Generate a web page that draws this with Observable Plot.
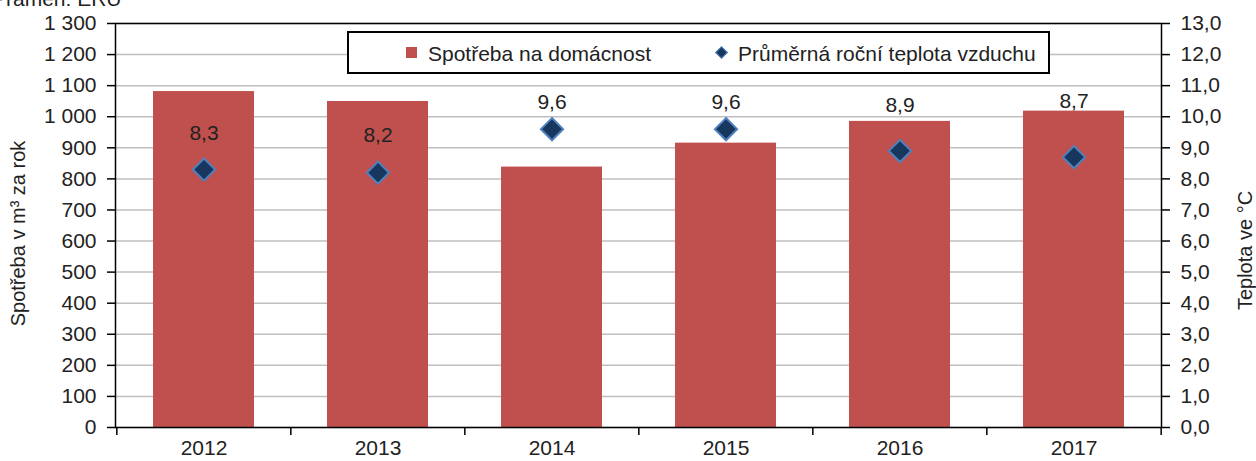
<!DOCTYPE html>
<html>
<head>
<meta charset="utf-8">
<script src="https://cdn.jsdelivr.net/npm/d3@7"></script>
<script src="https://cdn.jsdelivr.net/npm/@observablehq/plot@0.6"></script>
<style>
  html, body { margin: 0; padding: 0; background: #fff; }
  body { width: 1256px; height: 461px; position: relative; overflow: hidden; font-family: "Liberation Sans", Arial, sans-serif; color: #222; }
  #source { position: absolute; left: -8px; top: -12px; font-size: 21px; line-height: 21px; white-space: nowrap; }
  #legend { position: absolute; left: 347px; top: 31px; width: 699px; height: 39px; border: 2px solid #000; background: #fff; font-size: 21px; }
  #legend > * { position: absolute; }
  #legend .txt { top: 50%; transform: translateY(-50%); white-space: nowrap; line-height: 21px; }
  #chart { position: absolute; left: 0; top: 0; }
</style>
</head>
<body>
<div id="chart"></div>
<div id="source">Pramen: ERÚ</div>
<div id="legend">
  <span style="left:57px;top:14px;width:11px;height:11px;background:#c0504d;"></span>
  <span class="txt" style="left:79px;">Spotřeba na domácnost</span>
  <span style="left:368px;top:15px;width:7px;height:7px;background:#17375e;border:1px solid #4f81bd;transform:rotate(45deg);"></span>
  <span class="txt" style="left:389px;">Průměrná roční teplota vzduchu</span>
</div>
<script>
const years = ["2012", "2013", "2014", "2015", "2016", "2017"];
const consumption = [1081, 1049, 838, 915, 985, 1018];
const temperature = [8.3, 8.2, 9.6, 9.6, 8.9, 8.7];
const leftTicks = d3.range(0, 1301, 100);

const data = years.map((y, i) => ({year: y, cons: consumption[i], temp: temperature[i]}));

// layout / style
const W = 1256, H = 461, ML = 115, MR = 95, MT = 23, MB = 34;
const step = (W - ML - MR) / years.length;
const plotH = H - MT - MB;
const labelDy = [-36, -37, -27, -27, -46, -56]; // label offsets above the markers (px)

const loc = d3.formatLocale({decimal: ",", thousands: " ", grouping: [3], currency: ["", ""]});
const fmtLeft = loc.format(",");
const fmtRight = d => (d / 100).toFixed(1).replace(".", ",");
const fmtTemp = v => v.toFixed(1).replace(".", ",");

const chart = Plot.plot({
  width: W, height: H,
  marginLeft: ML, marginRight: MR, marginTop: MT, marginBottom: MB,
  style: {fontFamily: "'Liberation Sans', Arial, sans-serif", fontSize: "21px", color: "#222", background: "transparent"},
  x: {domain: years, paddingInner: 0.42, paddingOuter: 0.21, label: null},
  y: {domain: [0, 1300], label: null},
  marks: [
    Plot.gridY(leftTicks, {stroke: "#bfbfbf", strokeOpacity: 1, strokeWidth: 1.5}),
    Plot.barY(data, {x: "year", y: "cons", fill: "#c0504d"}),
    Plot.frame({stroke: "#000", strokeWidth: 1.5}),
    Plot.axisY({anchor: "left", ticks: leftTicks, tickFormat: fmtLeft, tickSize: 8, tickPadding: 11, label: null, stroke: "#000", strokeWidth: 1.5, fontSize: 21}),
    Plot.axisY({anchor: "right", ticks: leftTicks, tickFormat: fmtRight, tickSize: 8, tickPadding: 11, label: null, stroke: "#000", strokeWidth: 1.5, fontSize: 21}),
    Plot.axisX({tickSize: 0, tickPadding: 13, label: null, fontSize: 21}),
    Plot.ruleX(years, {x: d => d, dx: -step / 2, insetTop: plotH, insetBottom: -8, stroke: "#000", strokeWidth: 1.5}),
    Plot.ruleX([years[years.length - 1]], {x: d => d, dx: step / 2, insetTop: plotH, insetBottom: -8, stroke: "#000", strokeWidth: 1.5}),
    Plot.dot(data, {x: "year", y: d => d.temp * 100, symbol: "diamond2", r: 10, fill: "#17375e", stroke: "#4f81bd", strokeWidth: 2}),
    ...data.map((d, i) => Plot.text([d], {x: "year", y: e => e.temp * 100, text: e => fmtTemp(e.temp), dy: labelDy[i], fontSize: 21, fill: "#222"})),
    Plot.text(["Spotřeba v m³ za rok"], {frameAnchor: "left", textAnchor: "middle", dx: -97, dy: 8, rotate: -90, text: d => d, fontSize: 20, fill: "#222"}),
    Plot.text(["Teplota ve °C"], {frameAnchor: "right", textAnchor: "middle", dx: 84, dy: 25, rotate: -90, text: d => d, fontSize: 20, fill: "#222"})
  ]
});
document.getElementById("chart").appendChild(chart);
</script>
</body>
</html>
